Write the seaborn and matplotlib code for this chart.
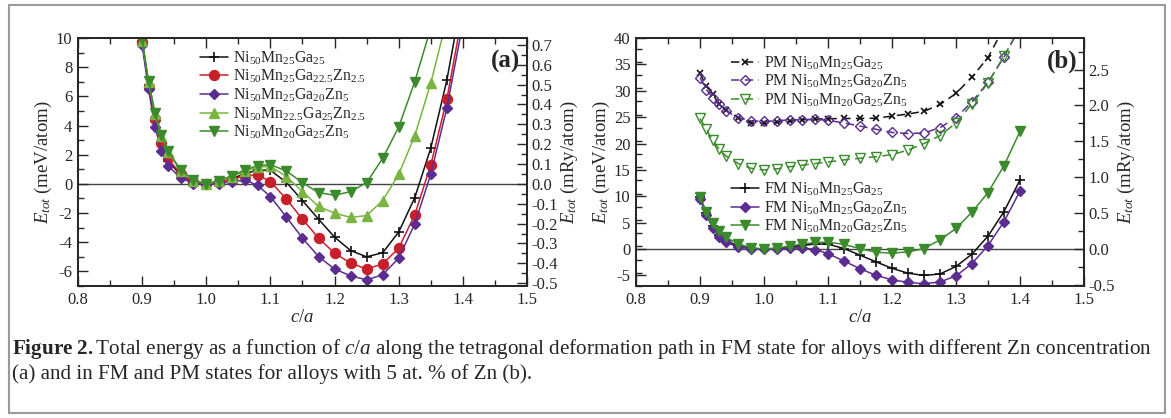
import numpy as np
import pandas as pd
import matplotlib
matplotlib.use("Agg")
import matplotlib.pyplot as plt
import seaborn as sns
from matplotlib.patches import Rectangle

# ---------------- data ----------------
ca = [0.90, 0.91, 0.92, 0.93, 0.94, 0.96, 0.98, 1.00, 1.02, 1.04, 1.06, 1.08, 1.10,
      1.125, 1.15, 1.175, 1.20, 1.225, 1.25, 1.275, 1.30, 1.325, 1.35, 1.375, 1.40]

fm_Ga25 = [9.8, 6.8, 4.3, 2.7, 1.6, 0.6, 0.1, 0.0, 0.1, 0.35, 0.7, 0.95, 0.93,
           0.1, -1.15, -2.42, -3.65, -4.57, -5.0, -4.72, -3.3, -0.95, 2.46, 7.1, 13.1]
fm_Ga22Zn2 = [9.7, 6.66, 4.45, 2.83, 1.76, 0.68, 0.12, 0.0, 0.12, 0.3, 0.55, 0.62, 0.16,
              -1.05, -2.42, -3.72, -4.75, -5.43, -5.84, -5.48, -4.41, -2.12, 1.3, 5.8, 11.8]
fm_Ga20Zn5 = [9.5, 6.48, 3.9, 2.28, 1.25, 0.43, 0.0, 0.0, 0.02, 0.16, 0.27, -0.1, -0.87,
              -2.28, -3.72, -4.98, -5.84, -6.3, -6.58, -6.23, -5.09, -2.74, 0.66, 5.2, 11.0]
fm_Mn22Zn2 = [9.8, 7.0, 4.8, 3.3, 2.2, 0.9, 0.22, 0.0, 0.18, 0.5, 0.85, 1.15, 1.2,
              0.5, -0.53, -1.55, -2.0, -2.3, -2.17, -1.14, 0.65, 3.3, 6.9, 11.3, 16.5]
fm_Mn20Zn5 = [9.9, 7.05, 4.88, 3.38, 2.28, 0.96, 0.27, 0.0, 0.23, 0.55, 0.96, 1.25, 1.32,
              0.88, 0.08, -0.6, -0.78, -0.53, 0.09, 1.75, 3.9, 7.0, 10.7, 15.8, 22.3]

pm_Ga25 = [33.3, 30.9, 29.3, 27.5, 26.3, 24.9, 23.9, 23.8, 24.05, 24.2, 24.5, 24.6, 24.7,
           24.75, 24.75, 24.8, 25.2, 25.6, 26.1, 27.4, 29.5, 32.6, 36.3, 42.0, 49.0]
pm_Ga20Zn5 = [32.5, 30.2, 28.7, 27.4, 26.2, 24.9, 24.3, 24.2, 24.3, 24.5, 24.5, 24.6, 24.4,
              23.9, 23.3, 22.7, 22.1, 21.9, 22.0, 23.0, 24.9, 27.9, 31.6, 36.4, 42.0]
pm_Mn20Zn5 = [24.75, 22.7, 20.6, 18.9, 17.7, 16.2, 15.3, 15.0, 15.2, 15.6, 15.9, 16.2, 16.5,
              16.9, 17.2, 17.5, 17.9, 18.75, 20.0, 21.5, 23.9, 27.5, 31.5, 36.6, 42.0]

lab_Ga25 = r"Ni$_{50}$Mn$_{25}$Ga$_{25}$"
lab_Ga22Zn2 = r"Ni$_{50}$Mn$_{25}$Ga$_{22.5}$Zn$_{2.5}$"
lab_Ga20Zn5 = r"Ni$_{50}$Mn$_{25}$Ga$_{20}$Zn$_{5}$"
lab_Mn22Zn2 = r"Ni$_{50}$Mn$_{22.5}$Ga$_{25}$Zn$_{2.5}$"
lab_Mn20Zn5 = r"Ni$_{50}$Mn$_{20}$Ga$_{25}$Zn$_{5}$"

MEV_PER_MRY = 13.6057

# ---------------- style ----------------
sns.set_theme(style="ticks")
plt.rcParams["font.family"] = ["Liberation Serif", "DejaVu Serif"]
plt.rcParams["mathtext.fontset"] = "custom"
plt.rcParams["mathtext.rm"] = "Liberation Serif"
plt.rcParams["mathtext.it"] = "Liberation Serif:italic"
plt.rcParams["mathtext.bf"] = "Liberation Serif:bold"
plt.rcParams["axes.linewidth"] = 1.3

BLACK = "#111111"
RED = "#c8202a"
PURPLE = "#5b2d90"
LGREEN = "#7ab541"
DGREEN = "#3b8a2c"

fig = plt.figure(figsize=(11.71, 4.18), dpi=100)
W, H = 1171, 418

def add_axes(l, r, t, b):
    return fig.add_axes([l / W, 1 - b / H, (r - l) / W, (b - t) / H])

axA = add_axes(78, 527, 38, 286)
axB = add_axes(636, 1084, 38, 286)

TICK_FS = 12
LAB_FS = 13.5
LEG_FS = 11.4

def series(ax, y, color, marker, ms, label, dashed=False, open_=False, mew=1.0):
    df = pd.DataFrame({"ca": ca, "E": y})
    kw = dict(color=color, marker=marker, markersize=ms, linewidth=1.1,
              markeredgecolor=color, markeredgewidth=mew)
    if open_:
        kw["markerfacecolor"] = "none"
    else:
        kw["markerfacecolor"] = color
    if dashed:
        kw["linestyle"] = (0, (5.5, 3.5))
    sns.lineplot(data=df, x="ca", y="E", ax=ax, label=label, legend=False,
                 estimator=None, sort=False, **kw)

# panel (a)
series(axA, fm_Ga25, BLACK, "+", 7.5, lab_Ga25, mew=1.2)
series(axA, fm_Ga22Zn2, RED, "o", 7.2, lab_Ga22Zn2)
series(axA, fm_Ga20Zn5, PURPLE, "D", 5.4, lab_Ga20Zn5)
series(axA, fm_Mn22Zn2, LGREEN, "^", 7.2, lab_Mn22Zn2)
series(axA, fm_Mn20Zn5, DGREEN, "v", 7.2, lab_Mn20Zn5)

# panel (b)
series(axB, pm_Ga25, BLACK, "x", 5, "PM " + lab_Ga25, dashed=True, mew=1.2)
series(axB, pm_Ga20Zn5, PURPLE, "D", 5.5, "PM " + lab_Ga20Zn5, dashed=True, open_=True)
series(axB, pm_Mn20Zn5, DGREEN, "v", 6.8, "PM " + lab_Mn20Zn5, dashed=True, open_=True)
series(axB, fm_Ga25, BLACK, "+", 7.5, "FM " + lab_Ga25, mew=1.2)
series(axB, fm_Ga20Zn5, PURPLE, "D", 5.4, "FM " + lab_Ga20Zn5)
series(axB, fm_Mn20Zn5, DGREEN, "v", 7.2, "FM " + lab_Mn20Zn5)

for ax, ylim, major, minor, rmajor, rminor, tag in [
        (axA, (-7, 10), 2, 1, 0.1, 0.05, "(a)"),
        (axB, (-7, 40), 5, 2.5, 0.5, 0.25, "(b)")]:
    ax.set_xlim(0.8, 1.5)
    ax.set_ylim(*ylim)
    ax.axhline(0, color="#444444", lw=1.0, zorder=0)
    ax.set_xticks(np.arange(0.8, 1.501, 0.1))
    ax.set_xticks(np.arange(0.85, 1.5, 0.1), minor=True)
    ax.set_xticklabels([f"{v:.1f}" for v in np.arange(0.8, 1.501, 0.1)])
    yt = np.arange(-6 if ylim[1] == 10 else -5, ylim[1] + 0.01, major)
    ax.set_yticks(yt)
    ax.set_yticklabels([f"{v:g}" for v in yt])
    ax.set_yticks(np.arange(ylim[0], ylim[1] + 0.01, minor), minor=True)
    ax.set_ylim(*ylim)
    ax.tick_params(which="both", direction="in", top=True, right=False,
                   labelsize=TICK_FS, width=1.0, pad=4)
    ax.tick_params(which="major", length=7)
    ax.tick_params(which="minor", length=4)
    ax.set_xlabel(r"$c/a$", fontsize=LAB_FS, labelpad=1)
    ax.set_ylabel(r"$E_{tot}$ (meV/atom)", fontsize=LAB_FS, labelpad=1)
    ax.text(0.985, 0.905, tag, transform=ax.transAxes, ha="right", va="center",
            fontsize=18, fontweight="bold")

    tw = ax.twinx()
    tw.set_ylim(ylim[0] / MEV_PER_MRY, ylim[1] / MEV_PER_MRY)
    lo = np.ceil(ylim[0] / MEV_PER_MRY / rmajor) * rmajor
    rt = np.arange(lo, ylim[1] / MEV_PER_MRY + 1e-9, rmajor)
    tw.set_yticks(rt)
    tw.set_yticklabels([f"{v:.1f}" if abs(v) > 1e-9 else "0.0" for v in rt])
    lo2 = np.ceil(ylim[0] / MEV_PER_MRY / rminor) * rminor
    tw.set_yticks(np.arange(lo2, ylim[1] / MEV_PER_MRY + 1e-9, rminor), minor=True)
    tw.set_ylim(ylim[0] / MEV_PER_MRY, ylim[1] / MEV_PER_MRY)
    tw.tick_params(which="both", direction="in", labelsize=TICK_FS, width=1.0, pad=3)
    tw.tick_params(which="major", length=7)
    tw.tick_params(which="minor", length=4)
    tw.set_ylabel(r"$E_{tot}$ (mRy/atom)", fontsize=LAB_FS, labelpad=1)
    for s in tw.spines.values():
        s.set_linewidth(1.3)

# legends
legkw = dict(loc="upper left", frameon=False, fontsize=LEG_FS, handlelength=1.75,
             handletextpad=0.3, labelspacing=0.08, borderpad=0, borderaxespad=0)
hA, lA = axA.get_legend_handles_labels()
axA.legend(hA, lA, bbox_to_anchor=(0.272, 0.955), **legkw)

hB, lB = axB.get_legend_handles_labels()
legPM = axB.legend(hB[:3], lB[:3], bbox_to_anchor=(0.213, 0.935), **legkw)
axB.add_artist(legPM)
axB.legend(hB[3:], lB[3:], bbox_to_anchor=(0.213, 0.425), **legkw)

# caption
fig.text(12 / W, 1 - 349 / H,
         r"$\mathbf{Figure\ 2.}$Total energy as a function of $c/a$ along the tetragonal "
         r"deformation path in FM state for alloys with different Zn concentration",
         fontsize=15.2, ha="left", va="center")
fig.text(12 / W, 1 - 374 / H,
         "(a) and in FM and PM states for alloys with 5 at. % of Zn (b).",
         fontsize=15.2, ha="left", va="center")

# outer frame
fig.add_artist(Rectangle((9 / W, 1 - 413 / H), (1165 - 9) / W, (413 - 5) / H,
                         transform=fig.transFigure, fill=False,
                         edgecolor="#9a9a9a", linewidth=1.5))

fig.savefig("out.png", dpi=100)
